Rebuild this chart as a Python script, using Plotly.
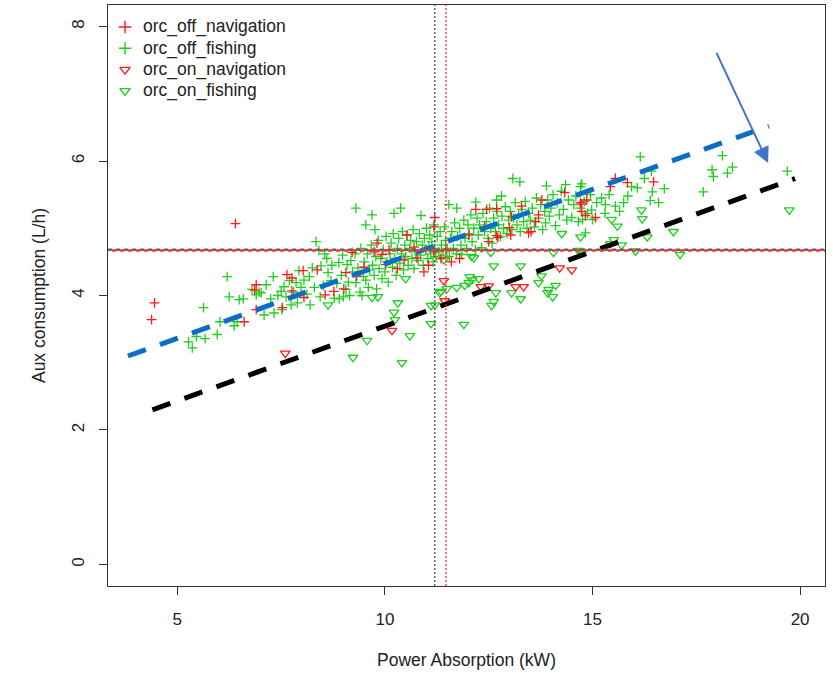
import plotly.graph_objects as go

# ---- observations: (power absorption kW, aux consumption L/h) ----
off_navigation = [
    (4.45, 3.89), (4.38, 3.64), (6.40, 5.07), (6.61, 3.61), (6.90, 3.79), (6.90, 4.16),
    (6.86, 4.08), (7.53, 3.82), (7.64, 4.31), (7.76, 4.26), (7.76, 4.07), (8.03, 4.37),
    (8.05, 3.97), (8.37, 4.38), (8.56, 4.01), (8.77, 4.06), (9.01, 4.10), (9.06, 4.34),
    (9.21, 4.64), (9.32, 4.29), (9.50, 4.42), (9.74, 4.65), (9.81, 4.78), (9.93, 4.61),
    (10.02, 4.46), (10.10, 4.68), (10.30, 4.40), (10.46, 4.53), (10.53, 4.90), (10.70, 4.72),
    (10.77, 4.56), (10.94, 4.35), (11.05, 4.45), (11.18, 4.65), (11.18, 5.02), (11.20, 5.16),
    (11.35, 4.55), (11.47, 4.68), (11.60, 4.50), (11.80, 4.55), (12.02, 4.90), (12.19, 5.28),
    (12.40, 5.02), (12.45, 5.28), (12.50, 4.80), (12.69, 5.29), (12.69, 4.89), (12.72, 4.86),
    (13.00, 5.01), (13.03, 4.90), (13.05, 5.17), (13.29, 5.33), (13.46, 4.93), (13.52, 4.95),
    (13.63, 5.10), (13.70, 5.20), (13.78, 5.42), (14.33, 5.53), (14.71, 5.38), (14.74, 5.25),
    (14.74, 5.36), (14.86, 5.42), (14.83, 5.19), (15.07, 5.16), (15.43, 5.62), (15.55, 5.74),
    (15.84, 5.68), (16.47, 5.69),
]

off_fishing = [
    (5.27, 3.31), (5.36, 3.22), (5.46, 3.39), (5.63, 3.82), (5.67, 3.36), (5.96, 3.42),
    (6.03, 3.61), (6.20, 4.28), (6.25, 3.98), (6.37, 3.55), (6.44, 3.61), (6.49, 3.94),
    (6.59, 3.95), (6.80, 4.09), (6.90, 4.01), (6.97, 4.05), (7.02, 4.04), (7.09, 3.71),
    (7.14, 4.16), (7.31, 4.28), (7.33, 3.74), (7.50, 4.06), (7.52, 3.79), (7.57, 4.13),
    (7.74, 3.86), (7.86, 4.19), (7.89, 3.89), (7.93, 4.37), (8.05, 4.23), (8.12, 4.02),
    (8.25, 4.41), (8.34, 4.80), (8.41, 4.67), (8.46, 4.44), (8.52, 4.15), (8.63, 4.34),
    (8.70, 4.22), (8.78, 3.96), (8.89, 4.49), (8.95, 4.30), (9.09, 4.46), (9.06, 4.09),
    (7.25, 3.95), (7.42, 4.00), (7.62, 3.98), (7.80, 4.05), (7.98, 4.12), (8.18, 4.28),
    (8.30, 4.12), (8.44, 3.98), (8.60, 4.55), (8.72, 4.45), (8.84, 4.18), (8.98, 4.60),
    (8.20, 3.86), (7.70, 4.22), (8.55, 4.62), (8.90, 3.95),
    (9.30, 5.30), (9.69, 5.20), (9.54, 5.05), (9.76, 4.98), (10.22, 5.22), (10.38, 5.30),
    (10.87, 5.19), (9.00, 3.98), (9.15, 4.00), (9.45, 4.00),
    (9.12, 4.20), (9.18, 4.52), (9.22, 4.35), (9.28, 4.62), (9.30, 4.19), (9.35, 4.41),
    (9.40, 4.05), (9.42, 4.70), (9.48, 4.28), (9.50, 4.50), (9.54, 4.23), (9.58, 4.62),
    (9.60, 4.12), (9.63, 4.38), (9.67, 4.75), (9.70, 4.45), (9.74, 4.30), (9.78, 4.58),
    (9.80, 4.10), (9.84, 4.82), (9.86, 4.40), (9.90, 4.55), (9.93, 4.25), (9.96, 4.68),
    (10.00, 4.35), (10.03, 4.88), (10.05, 4.50), (10.08, 4.20), (10.12, 4.62), (10.15, 4.78),
    (10.18, 4.42), (10.20, 4.92), (10.24, 4.55), (10.27, 4.30), (10.30, 4.70), (10.33, 4.85),
    (10.36, 4.48), (10.40, 4.62), (10.42, 4.95), (10.45, 4.38), (10.48, 4.75), (10.50, 4.58),
    (10.53, 4.90), (10.56, 4.45), (10.60, 4.70), (10.62, 4.82), (10.65, 4.55), (10.68, 4.98),
    (10.70, 4.40), (10.73, 4.65), (10.76, 4.80), (10.80, 4.52), (10.83, 4.92), (10.86, 4.60),
    (10.90, 4.75), (10.92, 4.45), (10.95, 4.85), (10.98, 4.68), (11.00, 5.00), (11.03, 4.55),
    (11.06, 4.73), (11.08, 4.90), (11.10, 4.62), (11.13, 4.80), (11.16, 4.50), (11.18, 5.05),
    (11.20, 4.70), (11.23, 4.58), (11.26, 4.88), (11.30, 4.65), (11.33, 4.95), (11.36, 4.75),
    (11.40, 4.60), (11.43, 5.02), (11.46, 4.82), (11.50, 4.70),
    (11.54, 5.35), (11.73, 5.30), (12.19, 5.39), (12.69, 5.42), (12.81, 5.48), (13.08, 5.74),
    (13.25, 5.69),
    (11.55, 4.58), (11.58, 4.85), (11.61, 4.95), (11.65, 4.70), (11.68, 5.08), (11.72, 4.62),
    (11.75, 4.88), (11.80, 5.00), (11.83, 4.75), (11.85, 4.61), (11.90, 5.12), (11.93, 4.85),
    (11.97, 4.70), (12.00, 5.05), (12.03, 4.92), (12.07, 5.20), (12.10, 4.80), (12.14, 5.00),
    (12.18, 4.68), (12.22, 5.15), (12.25, 4.90), (12.28, 5.05), (12.33, 4.71), (12.36, 5.22),
    (12.40, 4.95), (12.44, 5.10), (12.48, 4.85), (12.52, 5.30), (12.55, 5.00), (12.58, 4.78),
    (12.62, 5.15), (12.66, 4.95), (12.70, 5.25), (12.74, 5.05), (12.78, 4.88), (12.82, 5.18),
    (12.86, 5.00), (12.90, 5.32), (12.94, 4.92), (12.98, 5.12), (13.02, 5.25), (13.06, 4.98),
    (13.10, 5.15), (13.14, 5.38), (13.18, 5.05), (13.22, 5.20), (13.26, 4.95), (13.30, 5.28),
    (13.34, 5.10), (13.38, 5.40), (13.42, 5.00), (13.46, 5.22), (13.50, 5.12),
    (13.89, 5.63), (14.35, 5.65), (14.74, 5.66), (14.71, 5.62), (14.95, 5.50),
    (13.55, 5.30), (13.60, 5.02), (13.65, 5.45), (13.70, 5.15), (13.75, 5.35), (13.80, 4.98),
    (13.85, 5.25), (13.87, 5.08), (13.92, 5.42), (13.96, 5.18), (14.00, 5.30), (14.05, 5.50),
    (14.11, 5.04), (14.15, 5.38), (14.20, 5.20), (14.25, 5.55), (14.30, 5.28), (14.38, 5.12),
    (14.42, 5.42), (14.50, 5.16), (14.55, 5.35), (14.60, 5.48), (14.66, 5.10), (14.70, 5.30),
    (14.76, 5.13), (14.80, 5.40), (14.83, 4.93), (14.88, 5.22), (14.98, 5.27), (15.00, 5.13),
    (15.22, 5.45), (15.31, 5.35), (15.30, 5.22), (15.55, 5.33), (15.75, 5.38), (15.94, 5.62),
    (16.08, 5.60), (16.15, 6.06), (16.25, 5.74), (16.39, 5.41), (16.42, 5.85), (16.44, 5.54),
    (16.59, 5.38), (16.73, 5.59), (17.67, 5.54), (17.88, 5.87), (17.91, 5.77), (18.13, 6.08),
    (18.25, 5.82), (18.37, 5.91), (19.69, 5.85), (15.10, 5.38), (15.40, 5.50), (15.65, 5.25),
    (15.85, 5.48),
]

on_navigation = [
    (7.60, 3.14), (10.17, 3.48), (11.42, 4.22), (11.44, 3.92), (12.31, 4.13), (12.50, 4.14),
    (13.15, 4.13), (13.34, 4.13), (14.21, 4.41), (14.50, 4.38),
]

on_fishing = [
    (8.63, 3.86), (9.23, 3.08), (9.57, 3.33), (9.69, 3.97), (9.83, 3.98), (10.22, 3.75),
    (10.24, 3.64), (10.31, 3.89), (10.41, 3.00), (10.50, 4.25), (10.60, 3.40), (11.11, 3.58),
    (11.11, 3.85), (11.20, 3.86), (11.32, 4.04), (11.35, 4.06), (11.49, 4.10), (11.42, 4.53),
    (11.73, 4.12), (11.90, 3.57), (11.92, 4.15), (12.02, 4.19), (12.04, 4.28), (12.09, 4.58),
    (12.10, 4.23), (12.14, 4.56), (12.26, 4.25), (12.55, 4.64), (12.57, 3.85), (12.62, 3.91),
    (12.62, 4.44), (12.67, 4.04), (13.05, 4.04), (13.27, 3.95), (13.27, 4.44), (13.70, 4.19),
    (13.77, 4.29), (13.92, 4.04), (13.94, 4.09), (14.04, 3.98), (14.06, 4.64), (14.11, 4.15),
    (14.26, 4.92), (14.66, 4.67), (14.71, 4.87), (14.71, 4.66), (15.43, 4.77), (15.46, 5.13),
    (15.51, 4.83), (15.60, 5.03), (15.70, 4.75), (16.04, 4.66), (16.18, 5.27), (16.20, 5.14),
    (16.32, 4.87), (16.95, 4.95), (17.11, 4.61), (19.74, 5.27),
]

# ---- fitted lines, mean markers and annotation arrow ----
fit_off_x = [3.81, 19.25]
fit_off_y = [3.10, 6.52]
fit_on_x = [4.40, 19.88]
fit_on_y = [2.30, 5.74]
mean_x_all = 11.20
mean_x_nav = 11.47
mean_y_all = 4.68
mean_y_nav = 4.67
arrow_from = (17.97, 7.63)
arrow_to = (19.23, 5.97)

x_ticks = [5, 10, 15, 20]
y_ticks = [0, 2, 4, 6, 8]

legend_names = ["orc_off_navigation", "orc_off_fishing", "orc_on_navigation", "orc_on_fishing"]

RED = "#FF1A1A"
GREEN = "#1ECF1E"
FONT = "Liberation Sans, Arial, sans-serif"
TXT = "#222222"

# plot-area geometry in pixels (used to place the key inside the frame)
W, H = 833, 673
ML, MR, MT, MB = 108, 8, 5, 87
PW, PH = W - ML - MR, H - MT - MB


def split(points):
    return [p[0] for p in points], [p[1] for p in points]


def marker_size(sym, key=False):
    if "cross" in sym:
        return 9 if key else 7
    return 9 if key else 8.5


fig = go.Figure()

series = [
    (off_navigation, "cross-thin-open", RED),
    (off_fishing, "cross-thin-open", GREEN),
    (on_navigation, "triangle-down-open", RED),
    (on_fishing, "triangle-down-open", GREEN),
]
# fishing drawn first so navigation points sit on top
for i in [1, 3, 0, 2]:
    pts, sym, col = series[i]
    xs, ys = split(pts)
    fig.add_trace(go.Scatter(
        x=xs, y=ys, mode="markers", name=legend_names[i], showlegend=False,
        marker=dict(symbol=sym, size=marker_size(sym), color=col,
                    line=dict(color=col, width=1.3)),
    ))

fig.add_trace(go.Scatter(
    x=fit_off_x, y=fit_off_y, mode="lines", showlegend=False,
    line=dict(color="#0A6FC2", width=5, dash="19px,15px"),
))
fig.add_trace(go.Scatter(
    x=fit_on_x, y=fit_on_y, mode="lines", showlegend=False,
    line=dict(color="#000000", width=5, dash="19px,15px"),
))

# key: symbols on an overlay axis spanning the plot area, labels as annotations
key_sym_x = (125 - ML) / PW
key_txt_x = (141 - ML) / PW
key_rows_px = [27, 48.3, 69.6, 90.9]
key_y = [1 - (r - MT) / PH for r in key_rows_px]
for i, (pts, sym, col) in enumerate(series):
    fig.add_trace(go.Scatter(
        x=[key_sym_x], y=[key_y[i]], xaxis="x2", yaxis="y2", mode="markers",
        showlegend=False, hoverinfo="skip",
        marker=dict(symbol=sym, size=marker_size(sym, key=True), color=col,
                    line=dict(color=col, width=1.4)),
    ))
    fig.add_annotation(
        x=key_txt_x, y=key_y[i], xref="paper", yref="paper", text=legend_names[i],
        showarrow=False, xanchor="left", yanchor="middle",
        font=dict(family=FONT, size=17.5, color=TXT),
    )

# mean reference lines
fig.add_shape(type="line", xref="paper", yref="y", x0=0, x1=1, y0=mean_y_all, y1=mean_y_all,
              line=dict(color="#666666", width=2.5, dash="4px,4px"))
fig.add_shape(type="line", xref="paper", yref="y", x0=0.0056, x1=1, y0=mean_y_nav, y1=mean_y_nav,
              line=dict(color="#FF3030", width=2.5, dash="4px,4px"))
fig.add_shape(type="line", xref="x", yref="paper", x0=mean_x_all, x1=mean_x_all, y0=0, y1=1,
              line=dict(color="#555555", width=1.4, dash="2px,2px"))
fig.add_shape(type="line", xref="x", yref="paper", x0=mean_x_nav, x1=mean_x_nav, y0=0, y1=1,
              line=dict(color="#FF2020", width=1.2, dash="2px,2px"))

fig.add_annotation(
    x=arrow_to[0], y=arrow_to[1], ax=arrow_from[0], ay=arrow_from[1],
    xref="x", yref="y", axref="x", ayref="y", text="", showarrow=True,
    arrowhead=2, arrowsize=1.6, arrowwidth=2, arrowcolor="#4472C4",
)

axis_common = dict(
    showgrid=False, zeroline=False, showline=True, mirror=True,
    linecolor="#333333", linewidth=1.3, ticks="outside", ticklen=8,
    tickcolor="#333333", tickwidth=1.2,
    tickfont=dict(family=FONT, size=17, color=TXT),
)

fig.update_layout(
    width=W, height=H,
    margin=dict(l=ML, r=MR, t=MT, b=MB),
    paper_bgcolor="white", plot_bgcolor="white",
    font=dict(family=FONT, size=17, color=TXT),
    showlegend=False,
    xaxis=dict(
        range=[3.33, 20.6], tickvals=x_ticks, ticklabelstandoff=9,
        title=dict(text="Power Absorption (kW)", standoff=26,
                   font=dict(family=FONT, size=17.5, color=TXT)),
        **axis_common,
    ),
    yaxis=dict(
        range=[-0.32, 8.32], tickvals=y_ticks, tickangle=-90, ticklabelstandoff=8,
        title=dict(text="Aux consumption (L/h)", standoff=18,
                   font=dict(family=FONT, size=17.5, color=TXT)),
        **axis_common,
    ),
    xaxis2=dict(overlaying="x", range=[0, 1], visible=False, fixedrange=True),
    yaxis2=dict(overlaying="y", range=[0, 1], visible=False, fixedrange=True),
)

fig.write_html("out.html")
